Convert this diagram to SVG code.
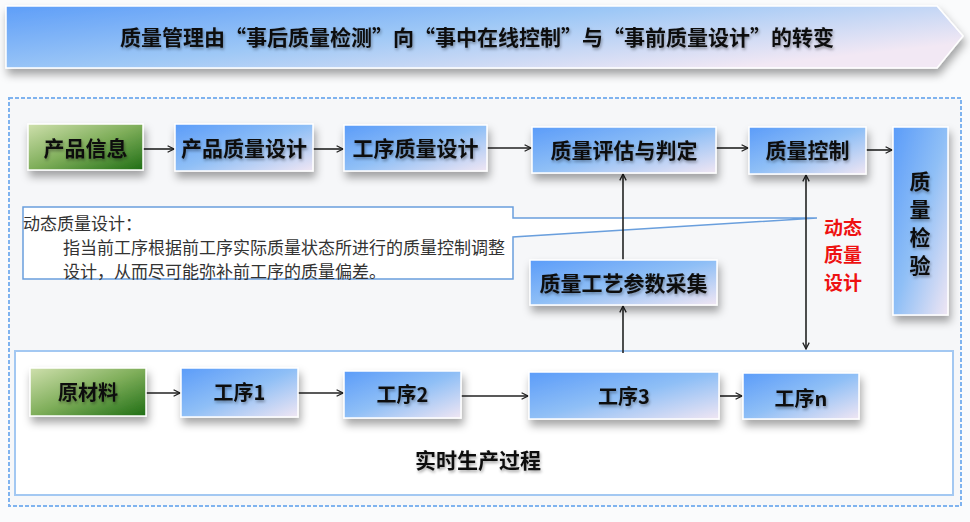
<svg xmlns="http://www.w3.org/2000/svg" width="970" height="522" viewBox="0 0 970 522">
<defs>
<linearGradient id="gBlue" x1="0" y1="0" x2="1" y2="1">
<stop offset="0" stop-color="#5b9cf9"/>
<stop offset="0.5" stop-color="#8fbff6"/>
<stop offset="1" stop-color="#f0e6f3"/>
</linearGradient>
<linearGradient id="gGreen" x1="0" y1="0" x2="1" y2="1">
<stop offset="0" stop-color="#cfe0ad"/>
<stop offset="0.5" stop-color="#7fae5a"/>
<stop offset="1" stop-color="#1f6e14"/>
</linearGradient>
<linearGradient id="gBanner" x1="0" y1="0" x2="1" y2="0.6">
<stop offset="0" stop-color="#5e9ef8"/>
<stop offset="0.5" stop-color="#9ec8f6"/>
<stop offset="1" stop-color="#f2e8f4"/>
</linearGradient>
<filter id="sh" x="-20%" y="-30%" width="140%" height="180%">
<feDropShadow dx="2" dy="6" stdDeviation="4" flood-color="#000" flood-opacity="0.35"/>
</filter>
<filter id="tsh" x="-10%" y="-30%" width="120%" height="170%">
<feDropShadow dx="1" dy="2" stdDeviation="1.5" flood-color="#000" flood-opacity="0.35"/>
</filter>
<marker id="ah" viewBox="0 0 10 10" refX="9" refY="5" markerWidth="8" markerHeight="8" markerUnits="userSpaceOnUse" orient="auto-start-reverse">
<path d="M1,1 L9,5 L1,9" fill="none" stroke="#222" stroke-width="1.6"/>
</marker>
<style>
.box{stroke:#ffffff;stroke-width:1.5;filter:url(#sh)}
.blue{fill:url(#gBlue)}
.green{fill:url(#gGreen)}
.lbl{font-family:"Noto Sans CJK SC","Noto Sans CJK TC",sans-serif;font-weight:bold;font-size:21px;fill:#111;text-anchor:middle;dominant-baseline:central;filter:url(#tsh)}
.sm{font-size:20px}
.red{fill:#ee1111;filter:none;font-size:19px}
.note{font-family:"Noto Sans CJK SC",sans-serif;font-size:17px;fill:#333}
.conn{stroke:#222;stroke-width:1.6;fill:none}
</style>
</defs>
<rect width="970" height="522" fill="#fafbfc"/>
<!-- banner -->
<g id="banner">
<path d="M6,6 H937 L963,36 L937,68 H6 Z" fill="url(#gBanner)" stroke="#ffffff" stroke-width="1.5" filter="url(#sh)"/>
<text class="lbl" x="477" y="36">质量管理由“事后质量检测”向“事中在线控制”与“事前质量设计”的转变</text>
</g>
<!-- outer dashed frame -->
<rect x="9" y="98" width="952" height="408" fill="#f6f7f9" stroke="#7fb3ef" stroke-width="2" stroke-dasharray="4 2"/>
<!-- real-time production frame -->
<g id="realtime">
<rect x="15" y="351" width="938" height="144" fill="#ffffff" stroke="#a3c8f2" stroke-width="2"/>
<text class="lbl" x="478" y="459">实时生产过程</text>
</g>
<!-- callout -->
<g id="callout">
<path d="M23,207 H513 V218 L817,218 L513,237 V279 H23 Z" fill="#ffffff" stroke="#6a9fdd" stroke-width="1.5"/>
<text class="note" x="23" y="222" dominant-baseline="central">动态质量设计：</text>
<text class="note" x="63" y="246" dominant-baseline="central">指当前工序根据前工序实际质量状态所进行的质量控制调整</text>
<text class="note" x="63" y="270" dominant-baseline="central">设计，从而尽可能弥补前工序的质量偏差。</text>
</g>
<!-- connectors -->
<g id="connectors">
<line class="conn" x1="143" y1="149" x2="174" y2="149" marker-end="url(#ah)"/>
<line class="conn" x1="313" y1="149" x2="343" y2="149" marker-end="url(#ah)"/>
<line class="conn" x1="487" y1="148" x2="531" y2="148" marker-end="url(#ah)"/>
<line class="conn" x1="716" y1="148" x2="748" y2="148" marker-end="url(#ah)"/>
<line class="conn" x1="866" y1="150" x2="892" y2="150" marker-end="url(#ah)"/>
<line class="conn" x1="623" y1="260" x2="623" y2="174" marker-end="url(#ah)"/>
<line class="conn" x1="623" y1="353" x2="623" y2="306" marker-end="url(#ah)"/>
<line class="conn" x1="806" y1="175" x2="806" y2="349" marker-start="url(#ah)" marker-end="url(#ah)"/>
<line class="conn" x1="146" y1="393" x2="180" y2="393" marker-end="url(#ah)"/>
<line class="conn" x1="298" y1="393" x2="343" y2="393" marker-end="url(#ah)"/>
<line class="conn" x1="461" y1="396" x2="528" y2="396" marker-end="url(#ah)"/>
<line class="conn" x1="720" y1="396" x2="742" y2="396" marker-end="url(#ah)"/>
</g>
<!-- top row -->
<g id="n-product-info">
<rect class="box green" x="28" y="124" width="115" height="46"/>
<text class="lbl" x="85.5" y="147">产品信息</text>
</g>
<g id="n-product-design">
<rect class="box blue" x="175" y="124" width="138" height="47"/>
<text class="lbl" x="244" y="147">产品质量设计</text>
</g>
<g id="n-process-design">
<rect class="box blue" x="344" y="125" width="143" height="46"/>
<text class="lbl" x="415.5" y="147">工序质量设计</text>
</g>
<g id="n-evaluate">
<rect class="box blue" x="532" y="127" width="184" height="46"/>
<text class="lbl" x="624" y="149">质量评估与判定</text>
</g>
<g id="n-control">
<rect class="box blue" x="749" y="127" width="117" height="47"/>
<text class="lbl" x="807.5" y="149">质量控制</text>
</g>
<g id="n-inspect">
<rect class="box blue" x="893" y="127" width="55" height="188"/>
<text class="lbl" x="920" y="180">质</text>
<text class="lbl" x="920" y="208">量</text>
<text class="lbl" x="920" y="236">检</text>
<text class="lbl" x="920" y="264">验</text>
</g>
<g id="n-params">
<rect class="box blue" x="530" y="260" width="187" height="45"/>
<text class="lbl" x="623.5" y="282">质量工艺参数采集</text>
</g>
<g id="n-dynamic-label">
<text class="lbl red" x="843" y="226">动态</text>
<text class="lbl red" x="843" y="253.5">质量</text>
<text class="lbl red" x="843" y="281">设计</text>
</g>
<!-- bottom row -->
<g id="n-raw">
<rect class="box green" x="30" y="368" width="116" height="48"/>
<text class="lbl sm" x="88" y="391">原材料</text>
</g>
<g id="n-p1">
<rect class="box blue" x="181" y="368" width="117" height="49"/>
<text class="lbl sm" x="239.5" y="391">工序1</text>
</g>
<g id="n-p2">
<rect class="box blue" x="344" y="371" width="117" height="47"/>
<text class="lbl sm" x="402.5" y="393">工序2</text>
</g>
<g id="n-p3">
<rect class="box blue" x="529" y="372" width="190" height="47"/>
<text class="lbl sm" x="624" y="395">工序3</text>
</g>
<g id="n-pn">
<rect class="box blue" x="743" y="373" width="116" height="46"/>
<text class="lbl sm" x="801" y="397">工序n</text>
</g>
</svg>
